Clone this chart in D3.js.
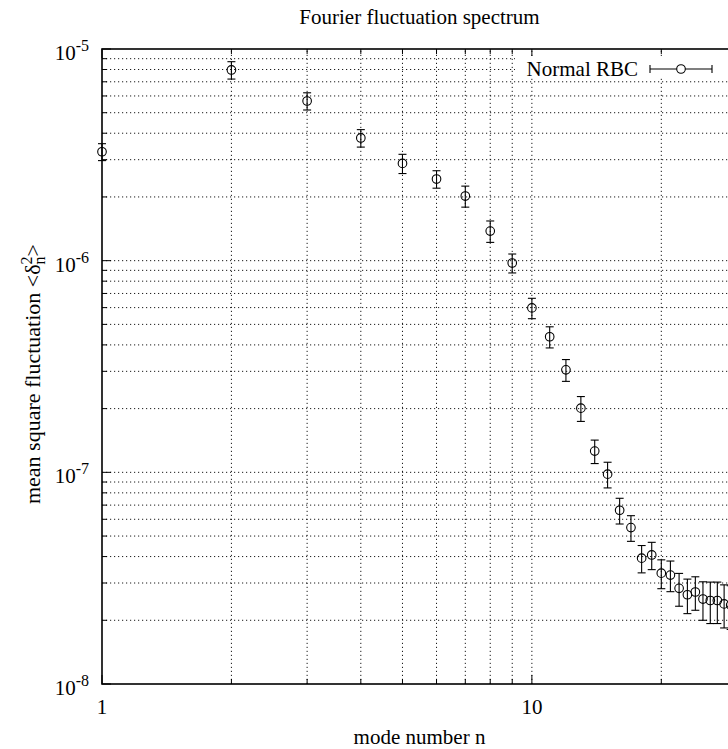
<!DOCTYPE html>
<html>
<head>
<meta charset="utf-8">
<script src="https://cdn.jsdelivr.net/npm/d3@7"></script>
<style>
body { margin: 0; background: #fff; }
svg { display: block; font-family: "Liberation Serif", "Times New Roman", serif; }
</style>
</head>
<body>
<script>
// mode numbers and mean square fluctuations
var modes = [1, 2, 3, 4, 5, 6, 7, 8, 9, 10, 11, 12, 13, 14, 15, 16, 17, 18, 19, 20,
             21, 22, 23, 24, 25, 26, 27, 28, 29];
var msf = [3.27e-6, 7.96e-6, 5.68e-6, 3.80e-6, 2.88e-6, 2.43e-6, 2.02e-6, 1.38e-6, 9.75e-7, 5.98e-7,
           4.37e-7, 3.05e-7, 2.01e-7, 1.26e-7, 9.8e-8, 6.62e-8, 5.48e-8, 3.93e-8, 4.07e-8, 3.34e-8,
           3.27e-8, 2.83e-8, 2.64e-8, 2.72e-8, 2.52e-8, 2.48e-8, 2.48e-8, 2.39e-8, 2.36e-8];
var msfErr = [3.0e-7, 7.5e-7, 5.3e-7, 3.6e-7, 3.0e-7, 2.3e-7, 2.3e-7, 1.6e-7, 1.0e-7, 6.6e-8,
              5.0e-8, 3.6e-8, 2.7e-8, 1.6e-8, 1.36e-8, 9.2e-9, 7.6e-9, 5.8e-9, 6.0e-9, 5.2e-9,
              5.4e-9, 5.0e-9, 4.9e-9, 4.9e-9, 5.2e-9, 5.5e-9, 5.5e-9, 5.5e-9, 5.5e-9];

var xMajor = [1, 10];
var yExponents = [-5, -6, -7, -8];
var seriesName = "Normal RBC";

var W = 728, H = 749;
var svg = d3.select("body").append("svg")
    .attr("width", W)
    .attr("height", H);

svg.append("rect").attr("width", W).attr("height", H).attr("fill", "#fff");

var x = d3.scaleLog().domain([1, 30]).range([102, 737]);
var y = d3.scaleLog().domain([1e-8, 1e-5]).range([684, 49]);

var x0 = x.range()[0], x1 = x.range()[1];
var yb = y.range()[0], yt = y.range()[1];

var xAll = x.ticks();
var yAll = y.ticks();

// grid
var grid = svg.append("g")
    .attr("stroke", "#000")
    .attr("stroke-width", 0.9)
    .attr("stroke-dasharray", "1.2,2.8");

grid.selectAll("line.gx")
    .data(xAll.filter(function(d) { return d > 1 && d < 30; }))
  .enter().append("line")
    .attr("x1", function(d) { return x(d); })
    .attr("x2", function(d) { return x(d); })
    .attr("y1", yb).attr("y2", yt);

grid.selectAll("line.gy")
    .data(yAll.filter(function(d) { return d > 1.01e-8 && d < 0.99e-5; }))
  .enter().append("line")
    .attr("y1", function(d) { return y(d); })
    .attr("y2", function(d) { return y(d); })
    .attr("x1", x0).attr("x2", x1);

// ticks on all four sides
function isMajorX(d) { return xMajor.indexOf(d) >= 0; }
function isMajorY(d) { var l = Math.log10(d); return Math.abs(l - Math.round(l)) < 1e-6; }

var ticks = svg.append("g").attr("stroke", "#000").attr("stroke-width", 1);
xAll.forEach(function(d) {
  var len = isMajorX(d) ? 9 : 5;
  ticks.append("line").attr("x1", x(d)).attr("x2", x(d)).attr("y1", yb).attr("y2", yb - len);
  ticks.append("line").attr("x1", x(d)).attr("x2", x(d)).attr("y1", yt).attr("y2", yt + len);
});
yAll.forEach(function(d) {
  var len = isMajorY(d) ? 9 : 5;
  ticks.append("line").attr("y1", y(d)).attr("y2", y(d)).attr("x1", x0).attr("x2", x0 + len);
  ticks.append("line").attr("y1", y(d)).attr("y2", y(d)).attr("x1", x1).attr("x2", x1 - len);
});

// border
svg.append("rect")
    .attr("x", x0).attr("y", yt)
    .attr("width", x1 - x0).attr("height", yb - yt)
    .attr("fill", "none").attr("stroke", "#000").attr("stroke-width", 1.6);

// tick labels
svg.selectAll("text.xl")
    .data(xMajor)
  .enter().append("text")
    .attr("x", function(d) { return x(d); })
    .attr("y", yb + 30)
    .attr("text-anchor", "middle")
    .attr("font-size", 21)
    .text(function(d) { return d; });

var yl = svg.selectAll("text.yl")
    .data(yExponents)
  .enter().append("text")
    .attr("x", x0 - 13)
    .attr("y", function(d) { return y(Math.pow(10, d)) + 11; })
    .attr("text-anchor", "end")
    .attr("font-size", 21);
yl.append("tspan").text("10");
yl.append("tspan").attr("dy", -9).attr("font-size", 16).text(function(d) { return d; });

// error bars and points
var pts = modes.map(function(n, i) { return {n: n, v: msf[i], e: msfErr[i]}; });
var plot = svg.append("g").attr("stroke", "#000").attr("stroke-width", 1.1).attr("fill", "none");

var pt = plot.selectAll("g.pt")
    .data(pts)
  .enter().append("g");

pt.append("line")
    .attr("x1", function(d) { return x(d.n); })
    .attr("x2", function(d) { return x(d.n); })
    .attr("y1", function(d) { return y(d.v - d.e); })
    .attr("y2", function(d) { return y(d.v + d.e); });
pt.append("line")
    .attr("x1", function(d) { return x(d.n) - 4; })
    .attr("x2", function(d) { return x(d.n) + 4; })
    .attr("y1", function(d) { return y(d.v - d.e); })
    .attr("y2", function(d) { return y(d.v - d.e); });
pt.append("line")
    .attr("x1", function(d) { return x(d.n) - 4; })
    .attr("x2", function(d) { return x(d.n) + 4; })
    .attr("y1", function(d) { return y(d.v + d.e); })
    .attr("y2", function(d) { return y(d.v + d.e); });
pt.append("circle")
    .attr("cx", function(d) { return x(d.n); })
    .attr("cy", function(d) { return y(d.v); })
    .attr("r", 4.3);

// key
var key = svg.append("g");
key.append("rect")
    .attr("x", 515).attr("y", 56)
    .attr("width", x1 - 515).attr("height", 22)
    .attr("fill", "#fff");
key.append("text")
    .attr("x", 638).attr("y", 76)
    .attr("text-anchor", "end")
    .attr("font-size", 21)
    .text(seriesName);
var ks = key.append("g").attr("stroke", "#000").attr("stroke-width", 1.1).attr("fill", "none");
ks.append("line").attr("x1", 650).attr("x2", 712).attr("y1", 69).attr("y2", 69);
ks.append("line").attr("x1", 650).attr("x2", 650).attr("y1", 65).attr("y2", 73);
ks.append("line").attr("x1", 712).attr("x2", 712).attr("y1", 65).attr("y2", 73);
ks.append("circle").attr("cx", 681).attr("cy", 69).attr("r", 4.3).attr("fill", "#fff");

// titles
svg.append("text")
    .attr("x", (x0 + x1) / 2).attr("y", 24)
    .attr("text-anchor", "middle")
    .attr("font-size", 21)
    .text("Fourier fluctuation spectrum");

svg.append("text")
    .attr("x", (x0 + x1) / 2).attr("y", 744)
    .attr("text-anchor", "middle")
    .attr("font-size", 21)
    .text("mode number n");

var ylab = svg.append("text")
    .attr("transform", "translate(40,374) rotate(-90)")
    .attr("text-anchor", "middle")
    .attr("font-size", 22);
ylab.append("tspan").text("mean square fluctuation <δ");
ylab.append("tspan").attr("dy", -8).attr("font-size", 16).text("2");
ylab.append("tspan").attr("dx", -8).attr("dy", 13).attr("font-size", 16).text("n");
ylab.append("tspan").attr("dy", -5).text(">");
</script>
</body>
</html>
